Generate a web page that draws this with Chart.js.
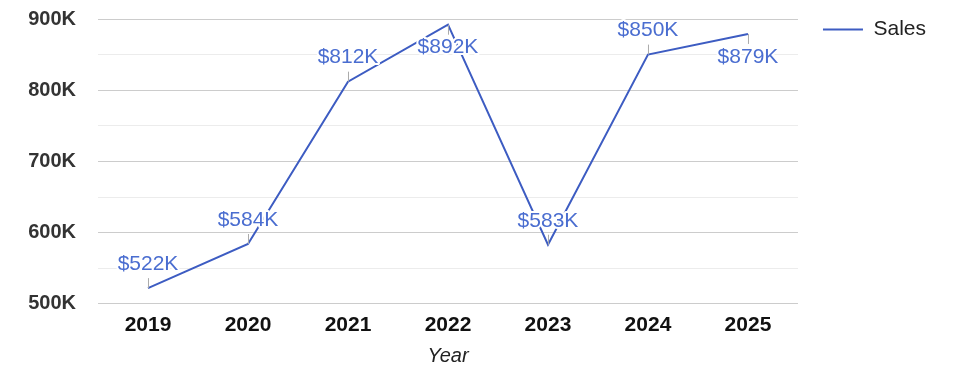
<!DOCTYPE html>
<html>
<head>
<meta charset="utf-8">
<script src="https://cdn.jsdelivr.net/npm/chart.js@4"></script>
<style>
  body { margin: 0; background: #fff; }
  #wrap { width: 975px; height: 378px; position: relative; }
</style>
</head>
<body>
<div id="wrap"><canvas id="sales"></canvas></div>
<script>
const years = ["2019", "2020", "2021", "2022", "2023", "2024", "2025"];
const sales = [522, 584, 812, 892, 583, 850, 879]; // thousands
const yTicks = [500, 600, 700, 800, 900];

const lineColor = "#3d5cc2";
const labelColor = "#4a6dd0";
const font = "Arial, 'Liberation Sans', sans-serif";

// value labels with a small leader line; put below when the point is a local peak
const valueLabels = {
  id: "valueLabels",
  afterDatasetsDraw(chart) {
    const ctx = chart.ctx;
    const pts = chart.getDatasetMeta(0).data;
    const vals = chart.data.datasets[0].data;
    ctx.save();
    ctx.font = "21px " + font;
    ctx.textAlign = "center";
    ctx.textBaseline = "middle";
    pts.forEach((p, i) => {
      const prev = i > 0 ? vals[i - 1] : -Infinity;
      const next = i < vals.length - 1 ? vals[i + 1] : -Infinity;
      const below = vals[i] > prev && vals[i] > next;
      const dir = below ? 1 : -1;
      ctx.strokeStyle = "#aaaaaa";
      ctx.lineWidth = 1;
      ctx.beginPath();
      ctx.moveTo(p.x + 0.5, p.y);
      ctx.lineTo(p.x + 0.5, p.y + dir * 10);
      ctx.stroke();
      const ty = p.y + dir * (below ? 23 : 24);
      const txt = "$" + vals[i] + "K";
      ctx.lineWidth = 4;
      ctx.strokeStyle = "#ffffff";
      ctx.lineJoin = "round";
      ctx.strokeText(txt, p.x, ty);
      ctx.fillStyle = labelColor;
      ctx.fillText(txt, p.x, ty);
    });
    ctx.restore();
  }
};

new Chart(document.getElementById("sales"), {
  type: "line",
  data: {
    labels: years,
    datasets: [
      {
        label: "Sales",
        data: sales,
        borderColor: lineColor,
        backgroundColor: lineColor,
        borderWidth: 2,
        pointRadius: 0,
        tension: 0,
      },
    ],
  },
  options: {
    responsive: true,
    maintainAspectRatio: false,
    animation: false,
    layout: { padding: { top: -6, right: 39, bottom: 10, left: 0 } },
    plugins: {
      tooltip: { enabled: false },
      legend: {
        position: "right",
        align: "start",
        labels: {
          usePointStyle: true,
          pointStyle: "line",
          pointStyleWidth: 40,
          padding: 25,
          color: "#222",
          font: { family: font, size: 21 },
        },
      },
    },
    scales: {
      x: {
        offset: true,
        grid: { display: false, drawTicks: false },
        border: { display: false },
        ticks: {
          padding: 9,
          color: "#111",
          font: { family: font, size: 21, weight: "bold" },
        },
        title: {
          display: true,
          text: "Year",
          color: "#222",
          padding: { top: -3, bottom: 0 },
          font: { family: font, size: 20, style: "italic" },
        },
      },
      y: {
        min: 500,
        max: 900,
        afterFit(scale) {
          scale.width = 98;
          scale.paddingTop = 19;
          scale.paddingBottom = 0;
        },
        grid: {
          drawTicks: false,
          color: (c) => (yTicks.includes(c.tick.value) ? "#cccccc" : "#ececec"),
        },
        border: { display: false },
        ticks: {
          stepSize: 50,
          padding: 22,
          color: "#333",
          font: { family: font, size: 20, weight: "bold" },
          callback: (v) => (yTicks.includes(v) ? v + "K" : ""),
        },
      },
    },
  },
  plugins: [valueLabels],
});
</script>
</body>
</html>
